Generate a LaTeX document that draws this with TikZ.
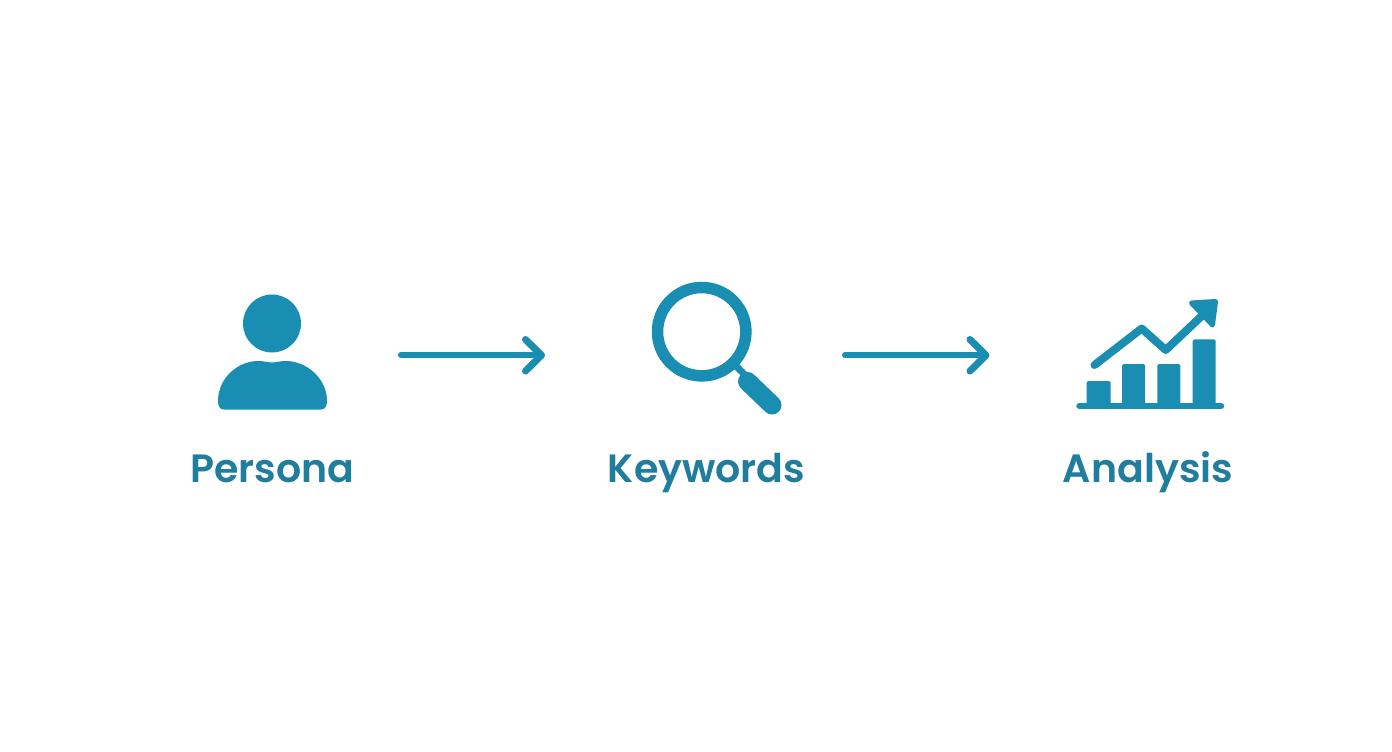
\documentclass[tikz,border=0pt]{standalone}
\usepackage{fontspec}
\setmainfont{Poppins}[BoldFont={Poppins SemiBold}]
\usetikzlibrary{arrows.meta}
\definecolor{icon}{HTML}{1A8DB3}
\definecolor{labeltext}{HTML}{1F7D9E}
\begin{document}
\begin{tikzpicture}[x=1pt,y=-1pt,
  iconfill/.style={fill=icon,draw=none},
  iconline/.style={draw=icon,line cap=round,line join=round},
  flow/.style={iconline,line width=6pt},
  arrowarm/.style={iconline,line width=7pt},
  caption/.style={anchor=base,inner sep=0pt,text=labeltext,font=\fontsize{39.5}{42}\selectfont\bfseries}]
\useasboundingbox (0,0) rectangle (1392,752);
\fill[white] (0,0) rectangle (1392,752);
% Persona icon
\fill[iconfill] (272,323.5) circle[radius=29];
\fill[iconfill] (218,401) .. controls (218,378) and (238,361) .. (258,361)
  .. controls (264,361) and (268,362.5) .. (272,362.5)
  .. controls (276,362.5) and (280,361) .. (286,361)
  .. controls (306,361) and (327,378) .. (327,401)
  .. controls (327,406) and (325,409.5) .. (321,409.5)
  -- (224,409.5) .. controls (220,409.5) and (218,406) .. (218,401) -- cycle;
% Magnifier icon
\draw[icon,line width=11.5pt] (701.7,331.7) circle[radius=44.2];
\draw[iconline,line width=7pt] (733,363) -- (745,375);
\draw[iconline,line width=19pt] (747.5,381.5) -- (772,405);
% Chart icon
\fill[iconfill,rounded corners=1.5pt] (1086.7,406) rectangle (1110.7,381);
\fill[iconfill,rounded corners=1.5pt] (1122,406) rectangle (1145,364);
\fill[iconfill,rounded corners=1.5pt] (1157.3,406) rectangle (1180.3,364);
\fill[iconfill,rounded corners=1.5pt] (1192.7,406) rectangle (1215.7,339.3);
\draw[iconline,line width=6.5pt] (1079.5,406) -- (1221,406);
\draw[iconline,line width=8pt] (1094.5,365) -- (1141.7,328.5) -- (1165.7,350) -- (1207,311);
\fill[iconfill,draw=icon,line width=5pt,line join=round] (1215.5,301.5) -- (1191.5,303) -- (1212.5,325) -- cycle;
% Captions
\node[caption] (persona) at (272.5,482) {Persona};
\node[caption] (keywords) at (706.5,482) {Keywords};
\node[caption] (analysis) at (1148,482) {Analysis};
% Connectors
\coordinate (a1s) at (401,355.3);
\coordinate (a1e) at (541.5,355.3);
\coordinate (a1u) at (525.5,339.5);
\coordinate (a1d) at (525.5,371);
\coordinate (a2s) at (845,355.3);
\coordinate (a2e) at (986,355.3);
\coordinate (a2u) at (970,339.5);
\coordinate (a2d) at (970,371);
\draw[flow] (a1s) -- (a1e);
\draw[arrowarm] (a1u) -- (a1e) -- (a1d);
\draw[flow] (a2s) -- (a2e);
\draw[arrowarm] (a2u) -- (a2e) -- (a2d);
\end{tikzpicture}
\end{document}
